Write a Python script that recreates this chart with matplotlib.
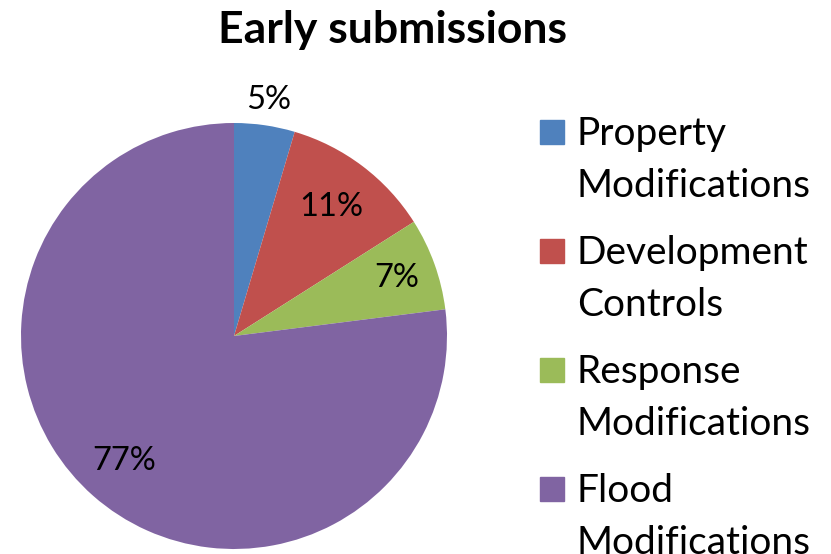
import numpy as np
import matplotlib.pyplot as plt
from matplotlib.patches import Rectangle

categories = ['Property\nModifications', 'Development\nControls',
              'Response\nModifications', 'Flood\nModifications']
shares = [4.6, 11.4, 7.0, 77.0]
colors = ['#4F81BD', '#C0504D', '#9BBB59', '#8064A2']
title = 'Early submissions'

plt.rcParams['font.family'] = ['Lato', 'DejaVu Sans']

W, H = 831, 554
fig = plt.figure(figsize=(W / 100, H / 100), dpi=100)

# pie: centre (234, 336) px, radius 213 px
cx, cy, r = 234, 336, 213
ax = fig.add_axes([(cx - r) / W, (H - cy - r) / H, 2 * r / W, 2 * r / H])
wedges, _ = ax.pie(shares, colors=colors, startangle=90, counterclock=False,
                   radius=1, wedgeprops=dict(linewidth=0))
ax.set_xlim(-1, 1)
ax.set_ylim(-1, 1)
ax.set_aspect('equal')
ax.axis('off')

# percentage labels, radial distance tweaked per slice like the original
label_r = [1.12, 0.76, 0.81, 0.78]
for w, v, lr in zip(wedges, shares, label_r):
    th = np.deg2rad((w.theta1 + w.theta2) / 2)
    ax.text(lr * np.cos(th), lr * np.sin(th), f'{v:.0f}%',
            ha='center', va='center', fontsize=23.5, clip_on=False)

fig.text(392 / W, 1 - 43 / H, title, ha='center', va='baseline',
         fontsize=32, fontweight='bold')

# legend drawn by hand so the square lines up with the first text line
for i, (lab, c) in enumerate(zip(categories, colors)):
    top = 120 + i * 119
    fig.patches.append(Rectangle((540 / W, 1 - (top + 24) / H), 24 / W, 24 / H,
                                 transform=fig.transFigure, color=c))
    for j, line in enumerate(lab.split('\n')):
        fig.text(577 / W, 1 - (top + 25 + 52 * j) / H, line, ha='left',
                 va='baseline', fontsize=28)

fig.savefig('out.png', dpi=100)
